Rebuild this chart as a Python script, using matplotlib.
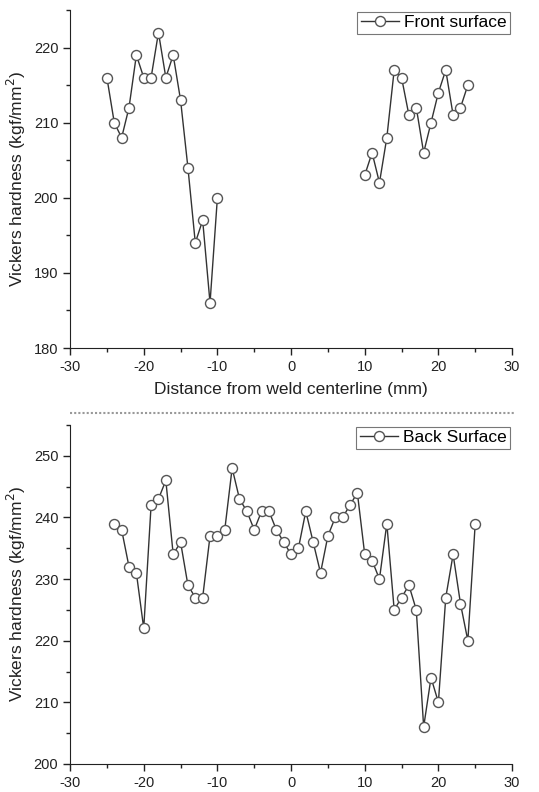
import numpy as np
import matplotlib
matplotlib.use('Agg')
import matplotlib.pyplot as plt
from matplotlib.ticker import MultipleLocator

plt.rcParams['font.family'] = ['Liberation Sans', 'DejaVu Sans']
plt.rcParams['axes.unicode_minus'] = False

# front surface (gap across the weld zone)
front_left_x = [-25, -24, -23, -22, -21, -20, -19, -18, -17, -16, -15, -14, -13, -12, -11, -10]
front_left_y = [216, 210, 208, 212, 219, 216, 216, 222, 216, 219, 213, 204, 194, 197, 186, 200]
front_right_x = [10, 11, 12, 13, 14, 15, 16, 17, 18, 19, 20, 21, 22, 23, 24]
front_right_y = [203, 206, 202, 208, 217, 216, 211, 212, 206, 210, 214, 217, 211, 212, 215]

# back surface
back_x = [-24, -23, -22, -21, -20, -19, -18, -17, -16, -15, -14, -13, -12, -11, -10,
          -9, -8, -7, -6, -5, -4, -3, -2, -1, 0, 1, 2, 3, 4, 5, 6, 7, 8, 9,
          10, 11, 12, 13, 14, 15, 16, 17, 18, 19, 20, 21, 22, 23, 24, 25]
back_y = [239, 238, 232, 231, 222, 242, 243, 246, 234, 236, 229, 227, 227, 237, 237,
          238, 248, 243, 241, 238, 241, 241, 238, 236, 234, 235, 241, 236, 231, 237, 240, 240, 242, 244,
          234, 233, 230, 239, 225, 227, 229, 225, 206, 214, 210, 227, 234, 226, 220, 239]

xlabel = 'Distance from weld centerline (mm)'
ylabel = 'Vickers hardness (kgf/mm$^2$)'

fig = plt.figure(figsize=(5.39, 7.92), dpi=100)
ax1 = fig.add_axes([0.130, 0.5606, 0.820, 0.4268])
ax2 = fig.add_axes([0.130, 0.0354, 0.820, 0.428])

style = dict(color='#333333', lw=1.0, marker='o', ms=7.2, mfc='white',
             mec='#555555', mew=1.0)

fx = front_left_x + [np.nan] + front_right_x
fy = front_left_y + [np.nan] + front_right_y
ax1.plot(fx, fy, label='Front surface', **style)
ax2.plot(back_x, back_y, label='Back Surface', **style)

for ax, ylim in ((ax1, (180, 225)), (ax2, (200, 255))):
    ax.set_xlim(-30, 30)
    ax.set_ylim(*ylim)
    ax.spines['top'].set_visible(False)
    ax.spines['right'].set_visible(False)
    ax.spines['left'].set_color('#222222')
    ax.spines['bottom'].set_color('#222222')
    ax.xaxis.set_major_locator(MultipleLocator(10))
    ax.xaxis.set_minor_locator(MultipleLocator(5))
    ax.yaxis.set_major_locator(MultipleLocator(10))
    ax.yaxis.set_minor_locator(MultipleLocator(5))
    ax.tick_params(which='major', direction='out', length=5, width=1, labelsize=10.5,
                   colors='#222222')
    ax.tick_params(which='minor', direction='out', length=3, width=1, colors='#222222')
    ax.set_ylabel(ylabel, fontsize=12.5, color='#222222')
    leg = ax.legend(loc='upper right', numpoints=1, fancybox=False, fontsize=12.5,
                    handlelength=2.2, borderaxespad=0.1, borderpad=0.2,
                    handletextpad=0.3)
    leg.get_frame().set_edgecolor('#555555')
    leg.get_frame().set_linewidth(0.8)

ax1.set_xlabel(xlabel, fontsize=12.5, color='#222222', labelpad=6)

# dotted separator between the panels
fig.add_artist(plt.Line2D([70 / 539, 514 / 539], [1 - 413 / 792, 1 - 413 / 792],
                          transform=fig.transFigure, color='#999999', lw=1.5,
                          linestyle=(0, (1, 1))))

fig.savefig('out.png', dpi=100)
